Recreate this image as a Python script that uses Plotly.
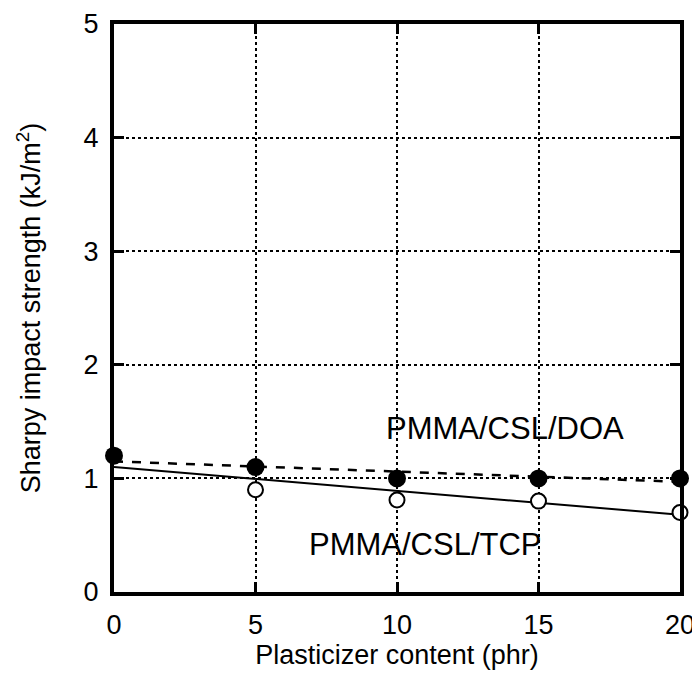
import plotly.graph_objects as go

x_content = [0, 5, 10, 15, 20]
doa_strength = [1.2, 1.1, 1.0, 1.0, 1.0]
tcp_x = [5, 10, 15, 20]
tcp_strength = [0.9, 0.81, 0.8, 0.7]
fit_x = [0, 20]
doa_fit = [1.15, 0.97]
tcp_fit = [1.1, 0.68]
x_ticks = [0, 5, 10, 15, 20]
y_ticks = [0, 1, 2, 3, 4, 5]

FONT = "Liberation Sans, Arial, sans-serif"
FS = 27
FS_ANN = 31

fig = go.Figure()
fig.add_trace(go.Scatter(x=fit_x, y=tcp_fit, mode="lines",
                         line=dict(color="black", width=2), showlegend=False))
fig.add_trace(go.Scatter(x=fit_x, y=doa_fit, mode="lines",
                         line=dict(color="black", width=2.5, dash="dash"), showlegend=False))
fig.add_trace(go.Scatter(x=tcp_x, y=tcp_strength, mode="markers",
                         marker=dict(symbol="circle", size=15, color="white",
                                     line=dict(color="black", width=2)),
                         showlegend=False, cliponaxis=False))
fig.add_trace(go.Scatter(x=x_content, y=doa_strength, mode="markers",
                         marker=dict(symbol="circle", size=18, color="black",
                                     line=dict(color="black", width=0)),
                         showlegend=False, cliponaxis=False))

fig.add_annotation(x=13.8, y=1.44, text="PMMA/CSL/DOA", showarrow=False,
                   font=dict(family=FONT, size=FS_ANN, color="black"))
fig.add_annotation(x=11.0, y=0.414, text="PMMA/CSL/TCP", showarrow=False,
                   font=dict(family=FONT, size=FS_ANN, color="black"))

axis_common = dict(
    showline=True, linecolor="black", linewidth=4, mirror="ticks",
    ticks="inside", ticklen=10, tickwidth=3, tickcolor="black",
    showgrid=True, gridcolor="black", gridwidth=1.5, griddash="dot",
    zeroline=False, tickfont=dict(family=FONT, size=FS, color="black"),
    automargin=False,
)

fig.update_xaxes(range=[0, 20], tickvals=x_ticks, ticklabelstandoff=6,
                 title=dict(text="Plasticizer content (phr)",
                            font=dict(family=FONT, size=FS, color="black"), standoff=3),
                 **axis_common)
fig.update_yaxes(range=[0, 5], tickvals=y_ticks, ticklabelstandoff=6,
                 title=dict(text="Sharpy impact strength (kJ/m<sup>2</sup>)",
                            font=dict(family=FONT, size=FS, color="black"), standoff=36),
                 **axis_common)

# page body has an 8px default margin, so the figure is offset by (8, 8)
fig.update_layout(
    width=692, height=665,
    margin=dict(l=106, r=20, t=16, b=81),
    plot_bgcolor="white", paper_bgcolor="white",
    font=dict(family=FONT, color="black"),
)

fig.write_html("out.html")
